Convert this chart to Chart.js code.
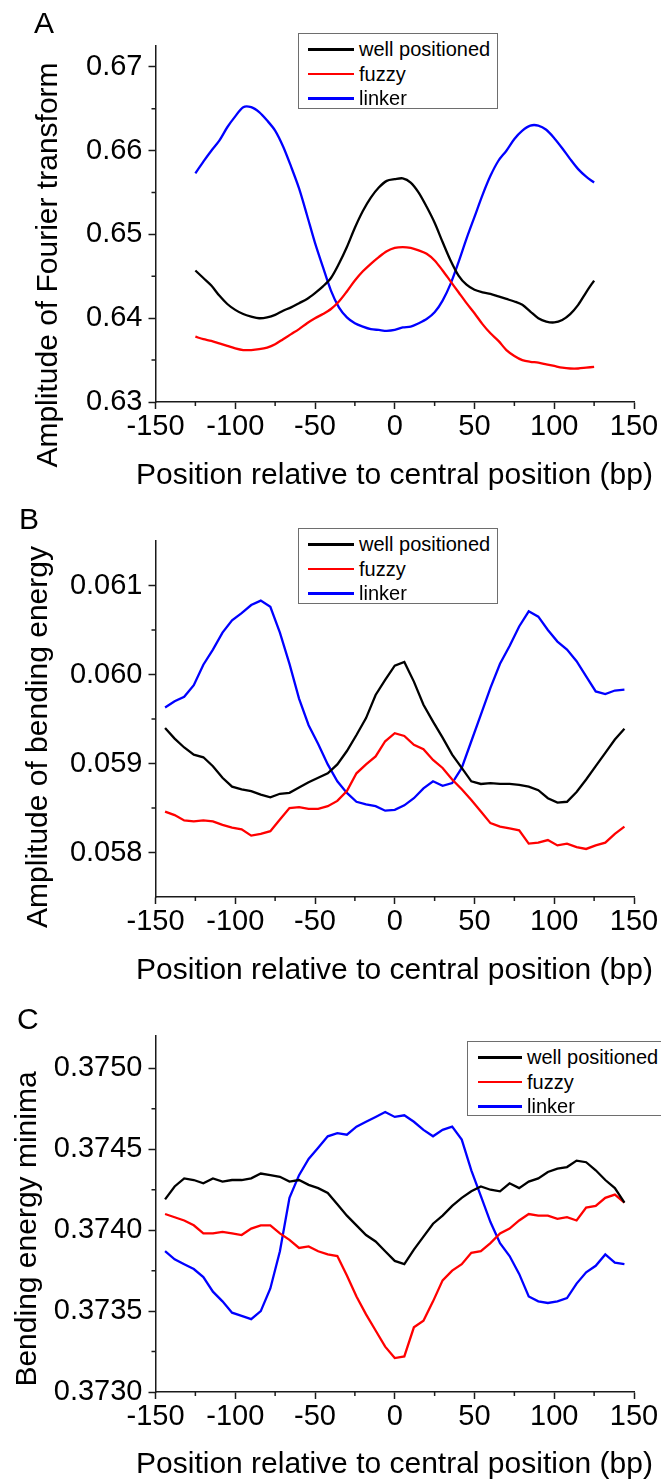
<!DOCTYPE html>
<html lang="en">
<head>
<meta charset="UTF-8">
<title>Nucleosome position profiles</title>
<script src="https://cdn.jsdelivr.net/npm/chart.js"></script>
<style>
  html, body { margin: 0; padding: 0; background: #fff; }
  body { width: 661px; height: 1479px; position: relative; overflow: hidden;
         font-family: "Liberation Sans", Arial, sans-serif; color: #000; }
  canvas { position: absolute; left: 0; }
  .letter { position: absolute; font-size: 30px; line-height: 30px; }
  .ytitle { position: absolute; width: 500px; height: 30px; line-height: 30px; font-size: 30px;
            text-align: center; white-space: nowrap; transform: rotate(-90deg); }
  .xtitle { position: absolute; left: 64.5px; width: 660px; height: 30px; line-height: 30px; font-size: 30px;
            text-align: center; white-space: nowrap; }
  .legend { position: absolute; border: 1px solid #6e6e6e; background: #fff; box-sizing: border-box;
            font-size: 20px; padding-top: 3px; }
  .legend .row { position: relative; height: 24.5px; line-height: 24.5px; white-space: nowrap; }
  .legend .swatch { position: absolute; top: 11px; height: 2.5px; }
  .legend .txt { position: absolute; top: 0; }
</style>
</head>
<body>

<canvas id="chartA" width="661" height="495" style="top:0px"></canvas>
<canvas id="chartB" width="661" height="495" style="top:495px"></canvas>
<canvas id="chartC" width="661" height="495" style="top:990px"></canvas>

<div class="letter" style="left:34px; top:8px">A</div>
<div class="letter" style="left:19px; top:504px">B</div>
<div class="letter" style="left:17px; top:1004px">C</div>

<div class="ytitle" style="left:-203px; top:250px">Amplitude of Fourier transform</div>
<div class="ytitle" style="left:-213px; top:722px">Amplitude of bending energy</div>
<div class="ytitle" style="left:-224px; top:1214px">Bending energy minima</div>

<div class="xtitle" style="top:459px">Position relative to central position (bp)</div>
<div class="xtitle" style="top:954px">Position relative to central position (bp)</div>
<div class="xtitle" style="top:1448px">Position relative to central position (bp)</div>

<script>
// series
const seriesNames = ['well positioned', 'fuzzy', 'linker'];
const seriesColors = ['#000000', '#ff0000', '#0000ff'];

// panel A
const posA = [-125,-120,-115,-110,-105,-100,-95,-90,-85,-80,-75,-70,-65,-60,-55,-50,-45,-40,-35,-30,-25,-20,-15,-10,-5,
              0,5,10,15,20,25,30,35,40,45,50,55,60,65,70,75,80,85,90,95,100,105,110,115,120,125];
const wellA = [0.6457,0.6448,0.6439,0.6427,0.6417,0.6410,0.6405,0.6402,0.6400,0.6401,0.6404,0.6409,0.6413,0.6418,0.6423,0.6430,
               0.6438,0.6448,0.6465,0.6485,0.6508,0.6528,0.6544,0.6556,0.6564,0.6566,0.6567,0.6562,0.6550,0.6533,0.6514,
               0.6491,0.6469,0.6451,0.6440,0.6434,0.6431,0.6429,0.6426,0.6423,0.6420,0.6416,0.6408,0.6400,0.6396,0.6395,
               0.6398,0.6405,0.6416,0.6431,0.6445];
const fuzzyA = [0.6378,0.6375,0.6373,0.6370,0.6367,0.6364,0.6362,0.6362,0.6363,0.6365,0.6369,0.6375,0.6381,0.6387,0.6394,0.6400,
                0.6405,0.6411,0.6420,0.6432,0.6445,0.6456,0.6465,0.6473,0.6480,0.6484,0.6485,0.6484,0.6481,0.6477,0.6469,
                0.6457,0.6444,0.6431,0.6418,0.6406,0.6393,0.6382,0.6373,0.6362,0.6355,0.6350,0.6348,0.6347,0.6345,0.6343,
                0.6341,0.6340,0.6340,0.6341,0.6342];
const linkerA = [0.6573,0.6587,0.6600,0.6612,0.6628,0.6641,0.6652,0.6652,0.6646,0.6636,0.6624,0.6605,0.6581,0.6555,0.6523,0.6490,
                 0.6461,0.6433,0.6413,0.6401,0.6394,0.6390,0.6387,0.6386,0.6385,0.6386,0.6389,0.6390,0.6394,0.6399,0.6407,
                 0.6421,0.6441,0.6467,0.6495,0.6521,0.6547,0.6570,0.6588,0.6600,0.6614,0.6624,0.6630,0.6630,0.6625,0.6615,
                 0.6603,0.6590,0.6578,0.6569,0.6562];

// panel B
const posB = [-144,-138,-132,-126,-120,-114,-108,-102,-96,-90,-84,-78,-72,-66,-60,-54,-48,-42,-36,-30,-24,-18,-12,-6,
              0,6,12,18,24,30,36,42,48,54,60,66,72,78,84,90,96,102,108,114,120,126,132,138,144];
const wellB = [0.05940,0.05928,0.05918,0.05910,0.05907,0.05897,0.05884,0.05874,0.05871,0.05869,0.05865,0.05862,0.05866,
               0.05867,0.05873,0.05879,0.05884,0.05889,0.05899,0.05914,0.05932,0.05951,0.05977,0.05994,0.06010,0.06014,
               0.05992,0.05966,0.05947,0.05929,0.05910,0.05895,0.05880,0.05877,0.05878,0.05877,0.05877,0.05876,0.05874,
               0.05870,0.05861,0.05856,0.05857,0.05868,0.05882,0.05897,0.05912,0.05927,0.05939];
const fuzzyB = [0.05846,0.05842,0.05836,0.05835,0.05836,0.05835,0.05831,0.05828,0.05826,0.05819,0.05821,0.05824,0.05837,
                0.05850,0.05851,0.05849,0.05849,0.05852,0.05858,0.05869,0.05889,0.05899,0.05908,0.05925,0.05934,0.05931,
                0.05921,0.05916,0.05904,0.05895,0.05882,0.05871,0.05859,0.05846,0.05833,0.05829,0.05827,0.05825,0.05810,
                0.05811,0.05814,0.05808,0.05810,0.05806,0.05804,0.05808,0.05811,0.05821,0.05829];
const linkerB = [0.05963,0.05970,0.05975,0.05988,0.06011,0.06028,0.06047,0.06061,0.06069,0.06078,0.06083,0.06076,0.06047,
                 0.06012,0.05973,0.05943,0.05922,0.05899,0.05880,0.05867,0.05857,0.05854,0.05852,0.05847,0.05848,0.05853,
                 0.05861,0.05872,0.05880,0.05875,0.05878,0.05895,0.05925,0.05955,0.05985,0.06012,0.06032,0.06054,0.06071,
                 0.06065,0.06050,0.06037,0.06028,0.06015,0.05998,0.05981,0.05978,0.05982,0.05983];

// panel C (same positions as B)
const posC = posB;
const wellC = [0.37419,0.37427,0.37432,0.37431,0.37429,0.37432,0.37430,0.37431,0.37431,0.37432,0.37435,0.37434,0.37433,
               0.37430,0.37431,0.37428,0.37426,0.37423,0.37416,0.37409,0.37403,0.37397,0.37393,0.37387,0.37381,0.37379,
               0.37388,0.37396,0.37404,0.37409,0.37415,0.37420,0.37424,0.37427,0.37425,0.37424,0.37429,0.37426,0.37430,
               0.37432,0.37436,0.37438,0.37439,0.37443,0.37442,0.37437,0.37431,0.37426,0.37417];
const fuzzyC = [0.37410,0.37408,0.37406,0.37403,0.37398,0.37398,0.37399,0.37398,0.37397,0.37401,0.37403,0.37403,0.37398,
                0.37394,0.37389,0.37390,0.37387,0.37385,0.37384,0.37372,0.37359,0.37348,0.37338,0.37328,0.37321,0.37322,
                0.37340,0.37344,0.37356,0.37369,0.37375,0.37379,0.37386,0.37387,0.37392,0.37398,0.37401,0.37406,0.37410,
                0.37409,0.37409,0.37407,0.37408,0.37406,0.37414,0.37415,0.37420,0.37422,0.37417];
const linkerC = [0.37387,0.37382,0.37379,0.37376,0.37371,0.37362,0.37356,0.37349,0.37347,0.37345,0.37350,0.37364,0.37387,
                 0.37420,0.37434,0.37444,0.37451,0.37458,0.37460,0.37459,0.37464,0.37467,0.37470,0.37473,0.37470,0.37471,
                 0.37467,0.37462,0.37458,0.37462,0.37464,0.37456,0.37437,0.37421,0.37405,0.37392,0.37384,0.37373,0.37359,
                 0.37356,0.37355,0.37356,0.37358,0.37367,0.37374,0.37378,0.37385,0.37380,0.37379];

// ticks
const xTicks = [-150, -100, -50, 0, 50, 100, 150];
const xMinor = [-125, -75, -25, 25, 75, 125];
const yTicksA = [0.63, 0.64, 0.65, 0.66, 0.67];
const yMinorA = [0.635, 0.645, 0.655, 0.665];
const yTicksB = [0.058, 0.059, 0.060, 0.061];
const yMinorB = [0.0585, 0.0595, 0.0605];
const yTicksC = [0.3730, 0.3735, 0.3740, 0.3745, 0.3750];
const yMinorC = [0.37325, 0.37375, 0.37425, 0.37475];

const FONT = "'Liberation Sans', Arial, sans-serif";
const axisColor = '#1a1a1a';

// short minor ticks, placed with the chart's own scales
const minorTicks = {
  id: 'minorTicks',
  afterDraw(chart, args, opts) {
    const {ctx, chartArea, scales} = chart;
    ctx.save();
    ctx.strokeStyle = axisColor;
    ctx.lineWidth = 1.5;
    ctx.beginPath();
    opts.x.forEach(v => {
      const px = scales.x.getPixelForValue(v);
      ctx.moveTo(px, chartArea.bottom);
      ctx.lineTo(px, chartArea.bottom + 4);
    });
    opts.y.forEach(v => {
      const py = scales.y.getPixelForValue(v);
      ctx.moveTo(chartArea.left, py);
      ctx.lineTo(chartArea.left - 4, py);
    });
    ctx.stroke();
    ctx.restore();
  }
};

function makePanel(id, pos, series, yMin, yMax, yTicks, yMinor, decimals, tension) {
  const grid = { drawOnChartArea: false, drawTicks: true, tickLength: 7, tickWidth: 1.5, tickColor: axisColor };
  const border = { display: true, color: axisColor, width: 1.5 };
  return new Chart(document.getElementById(id), {
    type: 'line',
    data: {
      datasets: series.map((vals, i) => ({
        label: seriesNames[i],
        data: pos.map((x, j) => ({ x: x, y: vals[j] })),
        borderColor: seriesColors[i],
        borderWidth: 2.3,
        pointRadius: 0,
        tension: tension,
        fill: false
      }))
    },
    options: {
      responsive: false,
      animation: false,
      layout: { padding: { top: 46, right: 27, left: 0, bottom: 0 } },
      plugins: {
        legend: { display: false },
        tooltip: { enabled: false },
        minorTicks: { x: xMinor, y: yMinor }
      },
      scales: {
        x: {
          type: 'linear', min: -150, max: 150,
          afterBuildTicks: s => { s.ticks = xTicks.map(v => ({ value: v })); },
          afterFit: s => { s.height = 93; },
          grid: grid, border: border,
          ticks: { font: { family: FONT, size: 29 }, color: '#000', padding: 1, maxRotation: 0, autoSkip: false },
          title: { display: false }
        },
        y: {
          type: 'linear', min: yMin, max: yMax,
          afterBuildTicks: s => { s.ticks = yTicks.map(v => ({ value: v })); },
          afterFit: s => { s.width = 155.5; },
          grid: grid, border: border,
          ticks: { font: { family: FONT, size: 29 }, color: '#000', padding: 6, autoSkip: false,
                   callback: v => Number(v).toFixed(decimals) }
        }
      }
    },
    plugins: [minorTicks]
  });
}

makePanel('chartA', posA, [wellA, fuzzyA, linkerA], 0.63, 0.6725, yTicksA, yMinorA, 2, 0.3);
makePanel('chartB', posB, [wellB, fuzzyB, linkerB], 0.0575, 0.0615, yTicksB, yMinorB, 3, 0);
makePanel('chartC', posC, [wellC, fuzzyC, linkerC], 0.3730, 0.3752, yTicksC, yMinorC, 4, 0);

// legends drawn as boxes inside the plot, built from the series names and colours
const legendBoxes = [
  { left: 298, top: 33, width: 200, height: 76, lineLeft: 9, lineWidth: 46, textLeft: 60 },
  { left: 298, top: 528, width: 200, height: 76, lineLeft: 9, lineWidth: 46, textLeft: 60 },
  { left: 467, top: 1041, width: 230, height: 75, lineLeft: 10, lineWidth: 44, textLeft: 59 }
];
legendBoxes.forEach(b => {
  const box = document.createElement('div');
  box.className = 'legend';
  box.style.cssText = `left:${b.left}px; top:${b.top}px; width:${b.width}px; height:${b.height}px`;
  seriesNames.forEach((name, i) => {
    const row = document.createElement('div');
    row.className = 'row';
    row.innerHTML = `<span class="swatch" style="left:${b.lineLeft}px; width:${b.lineWidth}px; background:${seriesColors[i]}"></span>` +
                    `<span class="txt" style="left:${b.textLeft}px">${name}</span>`;
    box.appendChild(row);
  });
  document.body.appendChild(box);
});
</script>
</body>
</html>
